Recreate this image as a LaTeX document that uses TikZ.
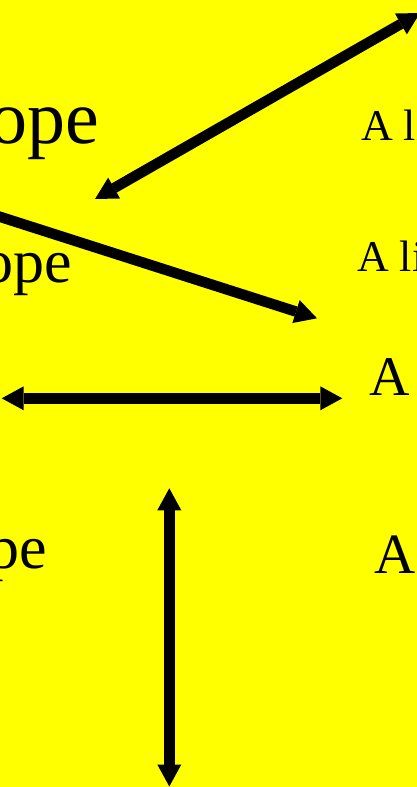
\documentclass[tikz,border=0pt]{standalone}
\usepackage{fontspec}
\setmainfont{Liberation Serif}
\usetikzlibrary{arrows.meta}
\definecolor{bgyellow}{RGB}{255,255,0}
\tikzset{
  lbl/.style={inner sep=0pt, outer sep=0pt, text=black},
  tipshape/.style={},
  arr/.style={line width=10.5pt, draw=black, -{Triangle[length=22pt,width=24pt,line width=0pt]}},
  darr/.style={line width=10.5pt, draw=black, {Triangle[length=22pt,width=24pt,line width=0pt]}-{Triangle[length=22pt,width=24pt,line width=0pt]}}
}
\begin{document}
\begin{tikzpicture}[x=1pt,y=1pt]
\useasboundingbox (0,0) rectangle (417,-787);
\fill[bgyellow] (0,0) rectangle (417,-787);
\clip (0,0) rectangle (417,-787);
% left texts
\node[lbl, anchor=base east, font=\fontsize{76}{80}\selectfont] (t1) at (99,-143) {ope};
\node[lbl, anchor=base east, font=\fontsize{62}{66}\selectfont] (t2) at (72,-282) {ope};
\node[lbl, anchor=base east, font=\fontsize{62}{66}\selectfont] (t3) at (47,-568) {pe};
% right texts
\node[lbl, anchor=base west, font=\fontsize{44}{48}\selectfont] (r1) at (361,-140) {A li};
\node[lbl, anchor=base west, font=\fontsize{44}{48}\selectfont] (r2) at (357,-271) {A li};
\node[lbl, anchor=base west, font=\fontsize{56}{60}\selectfont] (r3) at (369,-395) {A};
\node[lbl, anchor=base west, font=\fontsize{57}{60}\selectfont] (r4) at (374,-573) {A};
% arrow end points
\coordinate (a1s) at (95,-199);
\coordinate (a1e) at (420,-13);
\coordinate (a2s) at (-5,-215.2);
\coordinate (a2e) at (317,-318.3);
\coordinate (a3s) at (1.7,-398.3);
\coordinate (a3e) at (342.3,-398.3);
\coordinate (a4s) at (169.3,-488.3);
\coordinate (a4e) at (169.3,-786.5);
% arrows
\draw[darr] (a1s) -- (a1e);
\draw[arr] (a2s) -- (a2e);
\draw[darr] (a3s) -- (a3e);
\draw[darr] (a4s) -- (a4e);
\end{tikzpicture}
\end{document}
